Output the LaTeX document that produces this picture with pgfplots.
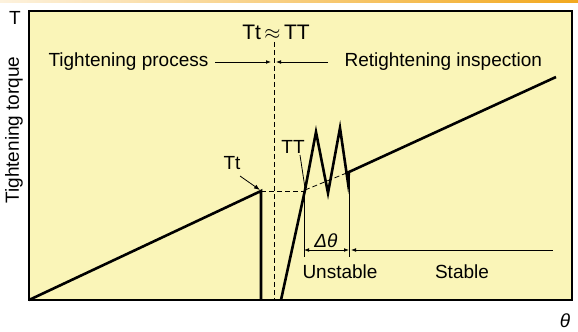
\documentclass[border=0pt]{standalone}
\usepackage{pgfplots}
\pgfplotsset{compat=1.18}
\usepackage{fontspec}
\setmainfont{Liberation Sans}
\usetikzlibrary{arrows.meta}
\definecolor{paper}{HTML}{FAF5B8}
\definecolor{band}{HTML}{F2A81E}

\begin{document}
\begin{tikzpicture}[font=\fontsize{19}{21}\selectfont]
\begin{axis}[
    at={(0,0)}, anchor=origin,
    scale only axis,
    width=543pt, height=289pt,
    xmin=29, xmax=572, ymin=29, ymax=318,
    xtick=\empty, ytick=\empty,
    axis line style={line width=1.3pt, black},
    axis background/.style={fill=paper},
    clip=false,
]
% page extent and top band
\path (axis cs:0,0) rectangle (axis cs:578,329);
\fill[left color=band!15, right color=band] (axis cs:0,326) rectangle (axis cs:578,329);

% tightening curve
\addplot[line width=2.6pt, black] coordinates {
    (29,29) (261,138) (261,29)
};
% retightening curve
\addplot[line width=2.6pt, black, line join=miter] coordinates {
    (281,29) (305,139) (316,197) (328,136) (340,201) (348,146) (349,157) (556,252)
};
% dashed guides
\addplot[thick, black, dash pattern=on 5pt off 3pt] coordinates {(261,138) (305,138)};
\addplot[thick, black, dash pattern=on 5pt off 3pt] coordinates {(305,139) (349,157)};
\addplot[thick, black, dash pattern=on 5pt off 3pt] coordinates {(274,287) (274,29)};
% thin verticals
\addplot[thick, black] coordinates {(304,139) (304,72)};
\addplot[thick, black] coordinates {(349,157) (349,72)};
% dimension arrows
\addplot[thick, black, {Latex[length=5pt]}-{Latex[length=5pt]}] coordinates {(304,79) (349,79)};
\addplot[thick, black, {Latex[length=5pt]}-] coordinates {(351,79) (553,79)};
\addplot[thick, black, -{Latex[length=5pt]}] coordinates {(215,267) (271,267)};
\addplot[thick, black, -{Latex[length=5pt]}] coordinates {(328,267) (276,267)};
% leaders
\addplot[thick, black, -{Latex[length=6pt]}] coordinates {(240,153) (260,139)};
\addplot[thick, black] coordinates {(300,174) (305,141)};

% text
\node at (axis cs:15,311) {T};
\node[rotate=90] at (axis cs:14,199) {Tightening torque};
\node at (axis cs:565,8) {\itshape θ};
\node[anchor=west] at (axis cs:45,267) {Tightening process};
\node[anchor=west] at (axis cs:341,267) {Retightening inspection};
\node at (axis cs:276,297) {\fontsize{21}{23}\selectfont Tt$\,\approx\,$TT};
\node at (axis cs:232,166) {Tt};
\node at (axis cs:293,182) {TT};
\node at (axis cs:326,88) {\itshape Δθ};
\node at (axis cs:340,57) {Unstable};
\node at (axis cs:462,57) {Stable};
\end{axis}
\end{tikzpicture}
\end{document}
